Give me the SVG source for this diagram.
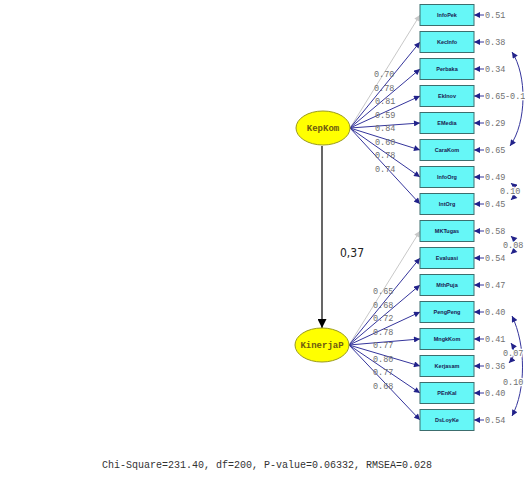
<svg xmlns="http://www.w3.org/2000/svg" width="525" height="477" viewBox="0 0 525 477">
<style>
.box{fill:#66f7f7;stroke:#3c6e6e;stroke-width:1}
.bt{font-family:"Liberation Sans",Arial,sans-serif;font-size:5.5px;font-weight:bold;fill:#1a1a50;text-anchor:middle}
.ell{fill:#ffff00;stroke:#9a9a20;stroke-width:1}
.et{font-family:"Liberation Mono","Courier New",monospace;font-size:9px;font-weight:bold;fill:#6e5a10;text-anchor:middle}
.ln{stroke:#35359c;stroke-width:1;fill:none}
.lg{stroke:#c8c8c8;stroke-width:1;fill:none}
.num{font-family:"Liberation Mono","Courier New",monospace;font-size:8.5px;fill:#707070}
.cl{stroke:#fff;stroke-width:2.5;paint-order:stroke}
.cv{stroke:#35359c;stroke-width:1;fill:none}
</style>
<defs>
<marker id="ab" viewBox="0 0 10 10" refX="10" refY="5" markerWidth="7" markerHeight="6" markerUnits="userSpaceOnUse" orient="auto-start-reverse"><path d="M0,0 L10,5 L0,10 z" fill="#22228a"/></marker>
<marker id="ag" viewBox="0 0 10 10" refX="10" refY="5" markerWidth="7" markerHeight="6" markerUnits="userSpaceOnUse" orient="auto"><path d="M0,0 L10,5 L0,10 z" fill="#c8c8c8"/></marker>
<marker id="ak" viewBox="0 0 10 10" refX="10" refY="5" markerWidth="9" markerHeight="9" markerUnits="userSpaceOnUse" orient="auto"><path d="M0,0 L10,5 L0,10 z" fill="#000"/></marker>
</defs>
<rect width="525" height="477" fill="#fff"/>
<g id="connectors">
<line class="lg" x1="350" y1="128" x2="420" y2="15" marker-end="url(#ag)"/>
<line class="ln" x1="350" y1="128" x2="420" y2="42" marker-end="url(#ab)"/>
<line class="ln" x1="350" y1="128" x2="420" y2="69" marker-end="url(#ab)"/>
<line class="ln" x1="350" y1="128" x2="420" y2="96" marker-end="url(#ab)"/>
<line class="ln" x1="350" y1="128" x2="420" y2="123" marker-end="url(#ab)"/>
<line class="ln" x1="350" y1="128" x2="420" y2="150" marker-end="url(#ab)"/>
<line class="ln" x1="350" y1="128" x2="420" y2="177" marker-end="url(#ab)"/>
<line class="ln" x1="350" y1="128" x2="420" y2="204" marker-end="url(#ab)"/>
<line class="lg" x1="349" y1="345" x2="420" y2="231" marker-end="url(#ag)"/>
<line class="ln" x1="349" y1="345" x2="420" y2="258" marker-end="url(#ab)"/>
<line class="ln" x1="349" y1="345" x2="420" y2="285" marker-end="url(#ab)"/>
<line class="ln" x1="349" y1="345" x2="420" y2="312" marker-end="url(#ab)"/>
<line class="ln" x1="349" y1="345" x2="420" y2="339" marker-end="url(#ab)"/>
<line class="ln" x1="349" y1="345" x2="420" y2="366" marker-end="url(#ab)"/>
<line class="ln" x1="349" y1="345" x2="420" y2="393" marker-end="url(#ab)"/>
<line class="ln" x1="349" y1="345" x2="420" y2="420" marker-end="url(#ab)"/>
<line x1="322" y1="146" x2="322" y2="328" stroke="#000" stroke-width="1.2" marker-end="url(#ak)"/>
<g id="errors">
<line class="ln" x1="484" y1="15" x2="474" y2="15" marker-end="url(#ab)"/>
<line class="ln" x1="484" y1="42" x2="474" y2="42" marker-end="url(#ab)"/>
<line class="ln" x1="484" y1="69" x2="474" y2="69" marker-end="url(#ab)"/>
<line class="ln" x1="484" y1="96" x2="474" y2="96" marker-end="url(#ab)"/>
<line class="ln" x1="484" y1="123" x2="474" y2="123" marker-end="url(#ab)"/>
<line class="ln" x1="484" y1="150" x2="474" y2="150" marker-end="url(#ab)"/>
<line class="ln" x1="484" y1="177" x2="474" y2="177" marker-end="url(#ab)"/>
<line class="ln" x1="484" y1="204" x2="474" y2="204" marker-end="url(#ab)"/>
<line class="ln" x1="484" y1="231" x2="474" y2="231" marker-end="url(#ab)"/>
<line class="ln" x1="484" y1="258" x2="474" y2="258" marker-end="url(#ab)"/>
<line class="ln" x1="484" y1="285" x2="474" y2="285" marker-end="url(#ab)"/>
<line class="ln" x1="484" y1="312" x2="474" y2="312" marker-end="url(#ab)"/>
<line class="ln" x1="484" y1="339" x2="474" y2="339" marker-end="url(#ab)"/>
<line class="ln" x1="484" y1="366" x2="474" y2="366" marker-end="url(#ab)"/>
<line class="ln" x1="484" y1="393" x2="474" y2="393" marker-end="url(#ab)"/>
<line class="ln" x1="484" y1="420" x2="474" y2="420" marker-end="url(#ab)"/>
</g>
<g id="covariances">
<path class="cv" d="M512,52 C527,75 527,122 510,146" marker-start="url(#ab)" marker-end="url(#ab)"/>
<path class="cv" d="M511,183 Q520,191 511,200" marker-start="url(#ab)" marker-end="url(#ab)"/>
<path class="cv" d="M511,236 Q520,245 511,254" marker-start="url(#ab)" marker-end="url(#ab)"/>
<path class="cv" d="M512,316 C526,345 526,390 512,416" marker-start="url(#ab)" marker-end="url(#ab)"/>
<path class="cv" d="M511,343 Q518,353 509,363" marker-start="url(#ab)" marker-end="url(#ab)"/>
</g>
</g>
<g id="KepKom">
<ellipse class="ell" cx="323" cy="128" rx="27" ry="17"/>
<text class="et" x="323" y="131">KepKom</text>
</g>
<g id="KinerjaP">
<ellipse class="ell" cx="322" cy="345" rx="27" ry="17"/>
<text class="et" x="322" y="348">KinerjaP</text>
</g>
<g id="InfoPek"><rect class="box" x="420" y="4.5" width="54" height="21"/><text class="bt" x="447" y="17">InfoPek</text></g>
<g id="KecInfo"><rect class="box" x="420" y="31.5" width="54" height="21"/><text class="bt" x="447" y="44">KecInfo</text></g>
<g id="Perbaka"><rect class="box" x="420" y="58.5" width="54" height="21"/><text class="bt" x="447" y="71">Perbaka</text></g>
<g id="EkInov"><rect class="box" x="420" y="85.5" width="54" height="21"/><text class="bt" x="447" y="98">EkInov</text></g>
<g id="EMedia"><rect class="box" x="420" y="112.5" width="54" height="21"/><text class="bt" x="447" y="125">EMedia</text></g>
<g id="CaraKom"><rect class="box" x="420" y="139.5" width="54" height="21"/><text class="bt" x="447" y="152">CaraKom</text></g>
<g id="InfoOrg"><rect class="box" x="420" y="166.5" width="54" height="21"/><text class="bt" x="447" y="179">InfoOrg</text></g>
<g id="IntOrg"><rect class="box" x="420" y="193.5" width="54" height="21"/><text class="bt" x="447" y="206">IntOrg</text></g>
<g id="MKTugas"><rect class="box" x="420" y="220.5" width="54" height="21"/><text class="bt" x="447" y="233">MKTugas</text></g>
<g id="Evaluasi"><rect class="box" x="420" y="247.5" width="54" height="21"/><text class="bt" x="447" y="260">Evaluasi</text></g>
<g id="MthPuja"><rect class="box" x="420" y="274.5" width="54" height="21"/><text class="bt" x="447" y="287">MthPuja</text></g>
<g id="PengPeng"><rect class="box" x="420" y="301.5" width="54" height="21"/><text class="bt" x="447" y="314">PengPeng</text></g>
<g id="MngkKom"><rect class="box" x="420" y="328.5" width="54" height="21"/><text class="bt" x="447" y="341">MngkKom</text></g>
<g id="Kerjasam"><rect class="box" x="420" y="355.5" width="54" height="21"/><text class="bt" x="447" y="368">Kerjasam</text></g>
<g id="PEnKal"><rect class="box" x="420" y="382.5" width="54" height="21"/><text class="bt" x="447" y="395">PEnKal</text></g>
<g id="DsLoyKe"><rect class="box" x="420" y="409.5" width="54" height="21"/><text class="bt" x="447" y="422">DsLoyKe</text></g>
<g id="loadings" class="num">
<text class="num" x="374" y="77">0.70</text>
<text class="num" x="374" y="90.5">0.78</text>
<text class="num" x="375" y="104">0.81</text>
<text class="num" x="375" y="117.5">0.59</text>
<text class="num" x="375" y="131">0.84</text>
<text class="num" x="375" y="144.5">0.60</text>
<text class="num" x="375" y="158">0.78</text>
<text class="num" x="375" y="171.5">0.74</text>
<text class="num" x="373" y="294">0.65</text>
<text class="num" x="373" y="307.5">0.68</text>
<text class="num" x="373" y="321">0.72</text>
<text class="num" x="373" y="334.5">0.78</text>
<text class="num" x="373" y="348">0.77</text>
<text class="num" x="373" y="361.5">0.80</text>
<text class="num" x="373" y="375">0.77</text>
<text class="num" x="373" y="388.5">0.68</text>
</g>
<g id="errvals">
<text class="num" x="485" y="18">0.51</text>
<text class="num" x="485" y="45">0.38</text>
<text class="num" x="485" y="72">0.34</text>
<text class="num" x="485" y="99">0.65</text>
<text class="num cl" x="505" y="99">-0.1</text>
<text class="num" x="485" y="126">0.29</text>
<text class="num" x="485" y="153">0.65</text>
<text class="num" x="485" y="180">0.49</text>
<text class="num cl" x="500" y="194">0.10</text>
<text class="num" x="485" y="207">0.45</text>
<text class="num" x="485" y="234">0.58</text>
<text class="num cl" x="503" y="248">0.08</text>
<text class="num" x="485" y="261">0.54</text>
<text class="num" x="485" y="288">0.47</text>
<text class="num" x="485" y="315">0.40</text>
<text class="num" x="485" y="342">0.41</text>
<text class="num cl" x="503" y="356" font-size="8">0.07</text>
<text class="num cl" x="503" y="385">0.10</text>
<text class="num" x="485" y="369">0.36</text>
<text class="num" x="485" y="396">0.40</text>
<text class="num" x="485" y="423">0.54</text>
</g>
<text x="340" y="257" font-family="'DejaVu Sans Condensed','DejaVu Sans',sans-serif" font-size="12" fill="#222">0,37</text>
<text x="102" y="468" font-family="'Liberation Mono','Courier New',monospace" font-size="10" fill="#333">Chi-Square=231.40, df=200, P-value=0.06332, RMSEA=0.028</text>
</svg>
